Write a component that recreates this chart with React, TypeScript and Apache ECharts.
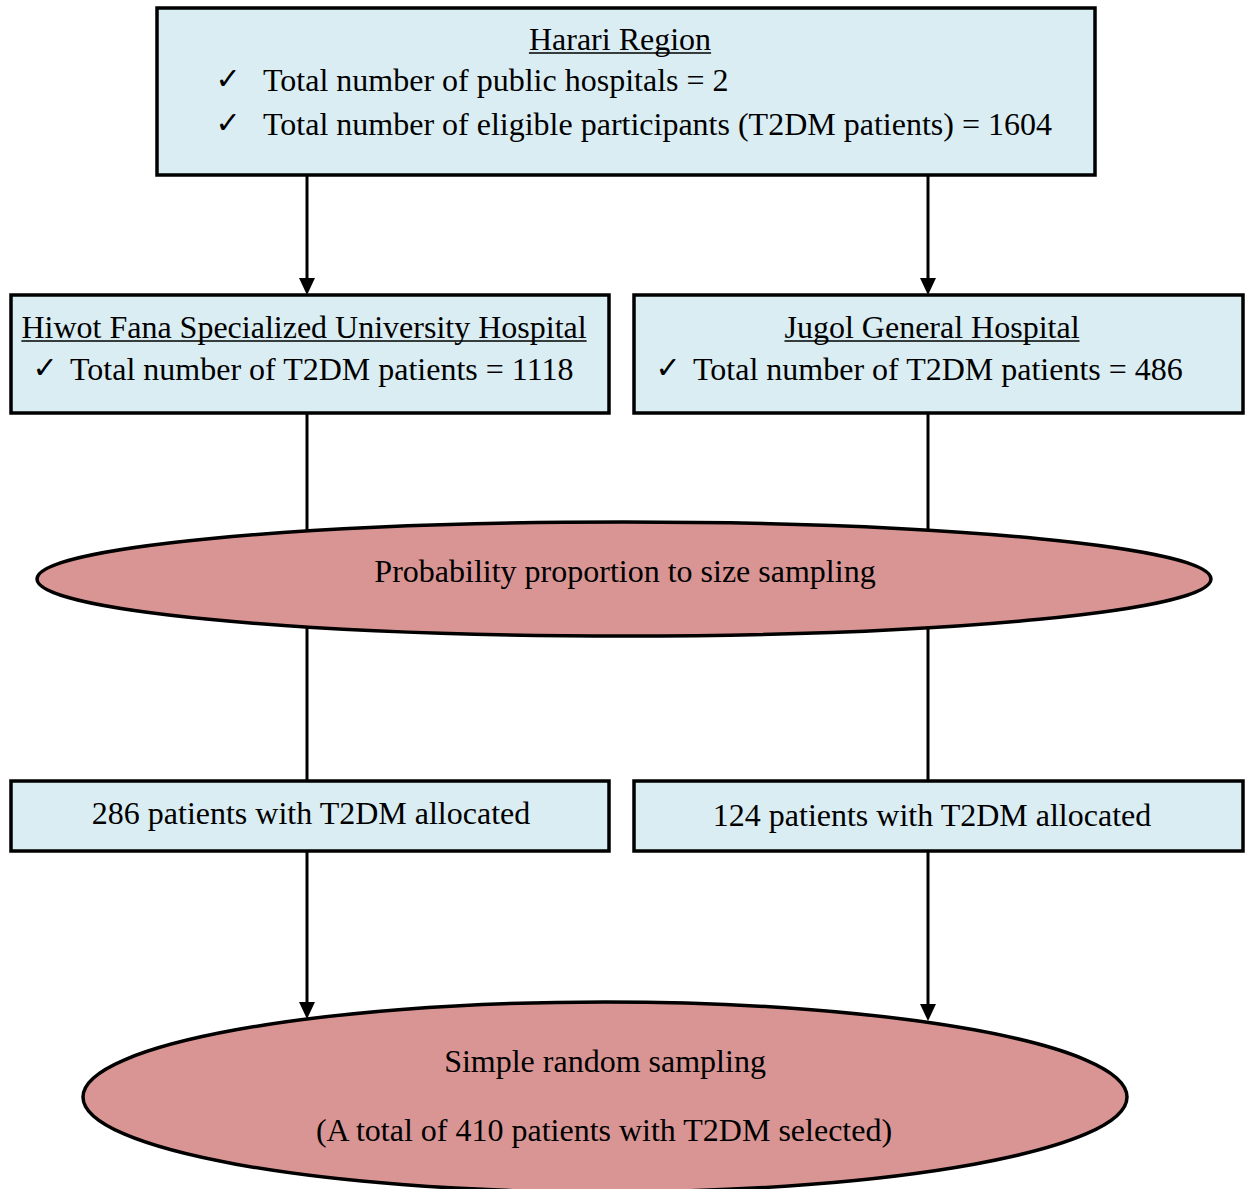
import React, { useEffect, useRef } from "react";
import * as echarts from "echarts";

const FONT = "Liberation Serif";
const BLUE = "#daedf3";
const PINK = "#d99594";
const FS = 32;

// Boxes: [x, y, w, h]
const boxes: number[][] = [
  [157, 8, 938, 167],
  [11, 295, 598, 118],
  [634, 295, 609, 118],
  [11, 781, 598, 70],
  [634, 781, 609, 70],
];
// Ellipses: [cx, cy, rx, ry]
const ellipses: number[][] = [
  [624, 579, 587, 57],
  [605, 1097, 522, 95],
];
// Connector lines: [x, y1, y2, arrow]
const connectors: [number, number, number, boolean][] = [
  [307, 175, 295, true],
  [928, 175, 295, true],
  [307, 413, 781, false],
  [928, 413, 781, false],
  [307, 851, 1019, true],
  [928, 851, 1021, true],
];
// Centered texts: [text, x, y, underlined]
const centerTexts: [string, number, number, boolean][] = [
  ["Harari Region", 620, 39, true],
  ["Hiwot Fana Specialized University Hospital", 304, 327, true],
  ["Jugol General Hospital", 932, 327, true],
  ["Probability proportion to size sampling", 625, 571, false],
  ["286 patients with T2DM allocated", 311, 813, false],
  ["124 patients with T2DM allocated", 932, 815, false],
  ["Simple random sampling", 605, 1061, false],
  ["(A total of 410 patients with T2DM selected)", 604, 1130, false],
];
// Checked items: [text, checkX, textX, y]
const checkItems: [string, number, number, number][] = [
  ["Total number of public hospitals = 2", 228, 263, 80],
  ["Total number of eligible participants (T2DM patients) = 1604", 228, 263, 124],
  ["Total number of T2DM patients = 1118", 45, 70, 369],
  ["Total number of T2DM patients = 486", 668, 693, 369],
];

export default function App() {
  const ref = useRef<HTMLDivElement>(null);
  useEffect(() => {
    const chart = echarts.init(ref.current!, null, { renderer: "svg" });
    const els: any[] = [];
    connectors.forEach(([x, y1, y2, arrow]) => {
      const end = arrow ? y2 - 14 : y2;
      els.push({
        type: "line",
        z: 1,
        shape: { x1: x, y1, x2: x, y2: end },
        style: { stroke: "#000", lineWidth: 3 },
      });
      if (arrow) {
        els.push({
          type: "polygon",
          z: 1,
          shape: { points: [[x - 8, y2 - 17], [x + 8, y2 - 17], [x, y2]] },
          style: { fill: "#000" },
        });
      }
    });
    boxes.forEach(([x, y, w, h]) => {
      els.push({
        type: "rect",
        z: 2,
        shape: { x, y, width: w, height: h },
        style: { fill: BLUE, stroke: "#000", lineWidth: 3.5 },
      });
    });
    ellipses.forEach(([cx, cy, rx, ry]) => {
      els.push({
        type: "ellipse",
        z: 2,
        shape: { cx, cy, rx, ry },
        style: { fill: PINK, stroke: "#000", lineWidth: 3.5 },
      });
    });
    centerTexts.forEach(([t, x, y, ul]) => {
      els.push({
        type: "text",
        z: 3,
        x,
        y,
        style: {
          text: t,
          fontFamily: FONT,
          fontSize: FS,
          fill: "#000",
          align: "center",
          verticalAlign: "middle",
        },
      });
      if (ul) {
        let w = t.length * 14;
        try {
          const c = document.createElement("canvas").getContext("2d")!;
          c.font = `${FS}px "${FONT}"`;
          w = c.measureText(t).width;
        } catch (e) {}
        els.push({
          type: "line",
          z: 3,
          shape: { x1: x - w / 2, y1: y + 14, x2: x + w / 2, y2: y + 14 },
          style: { stroke: "#000", lineWidth: 1.6 },
        });
      }
    });
    checkItems.forEach(([t, cx, tx, y]) => {
      els.push({
        type: "text",
        z: 3,
        x: cx,
        y: y - 2,
        style: {
          text: "✓",
          fontFamily: "DejaVu Sans",
          fontSize: 30,
          fill: "#000",
          align: "center",
          verticalAlign: "middle",
        },
      });
      els.push({
        type: "text",
        z: 3,
        x: tx,
        y,
        style: {
          text: t,
          fontFamily: FONT,
          fontSize: FS,
          fill: "#000",
          align: "left",
          verticalAlign: "middle",
        },
      });
    });
    chart.setOption({
      animation: false,
      backgroundColor: "#fff",
      graphic: { elements: els },
    });
    return () => chart.dispose();
  }, []);
  return (
    <div
      ref={ref}
      style={{ position: "absolute", left: 0, top: 0, width: 1248, height: 1189 }}
    />
  );
}
